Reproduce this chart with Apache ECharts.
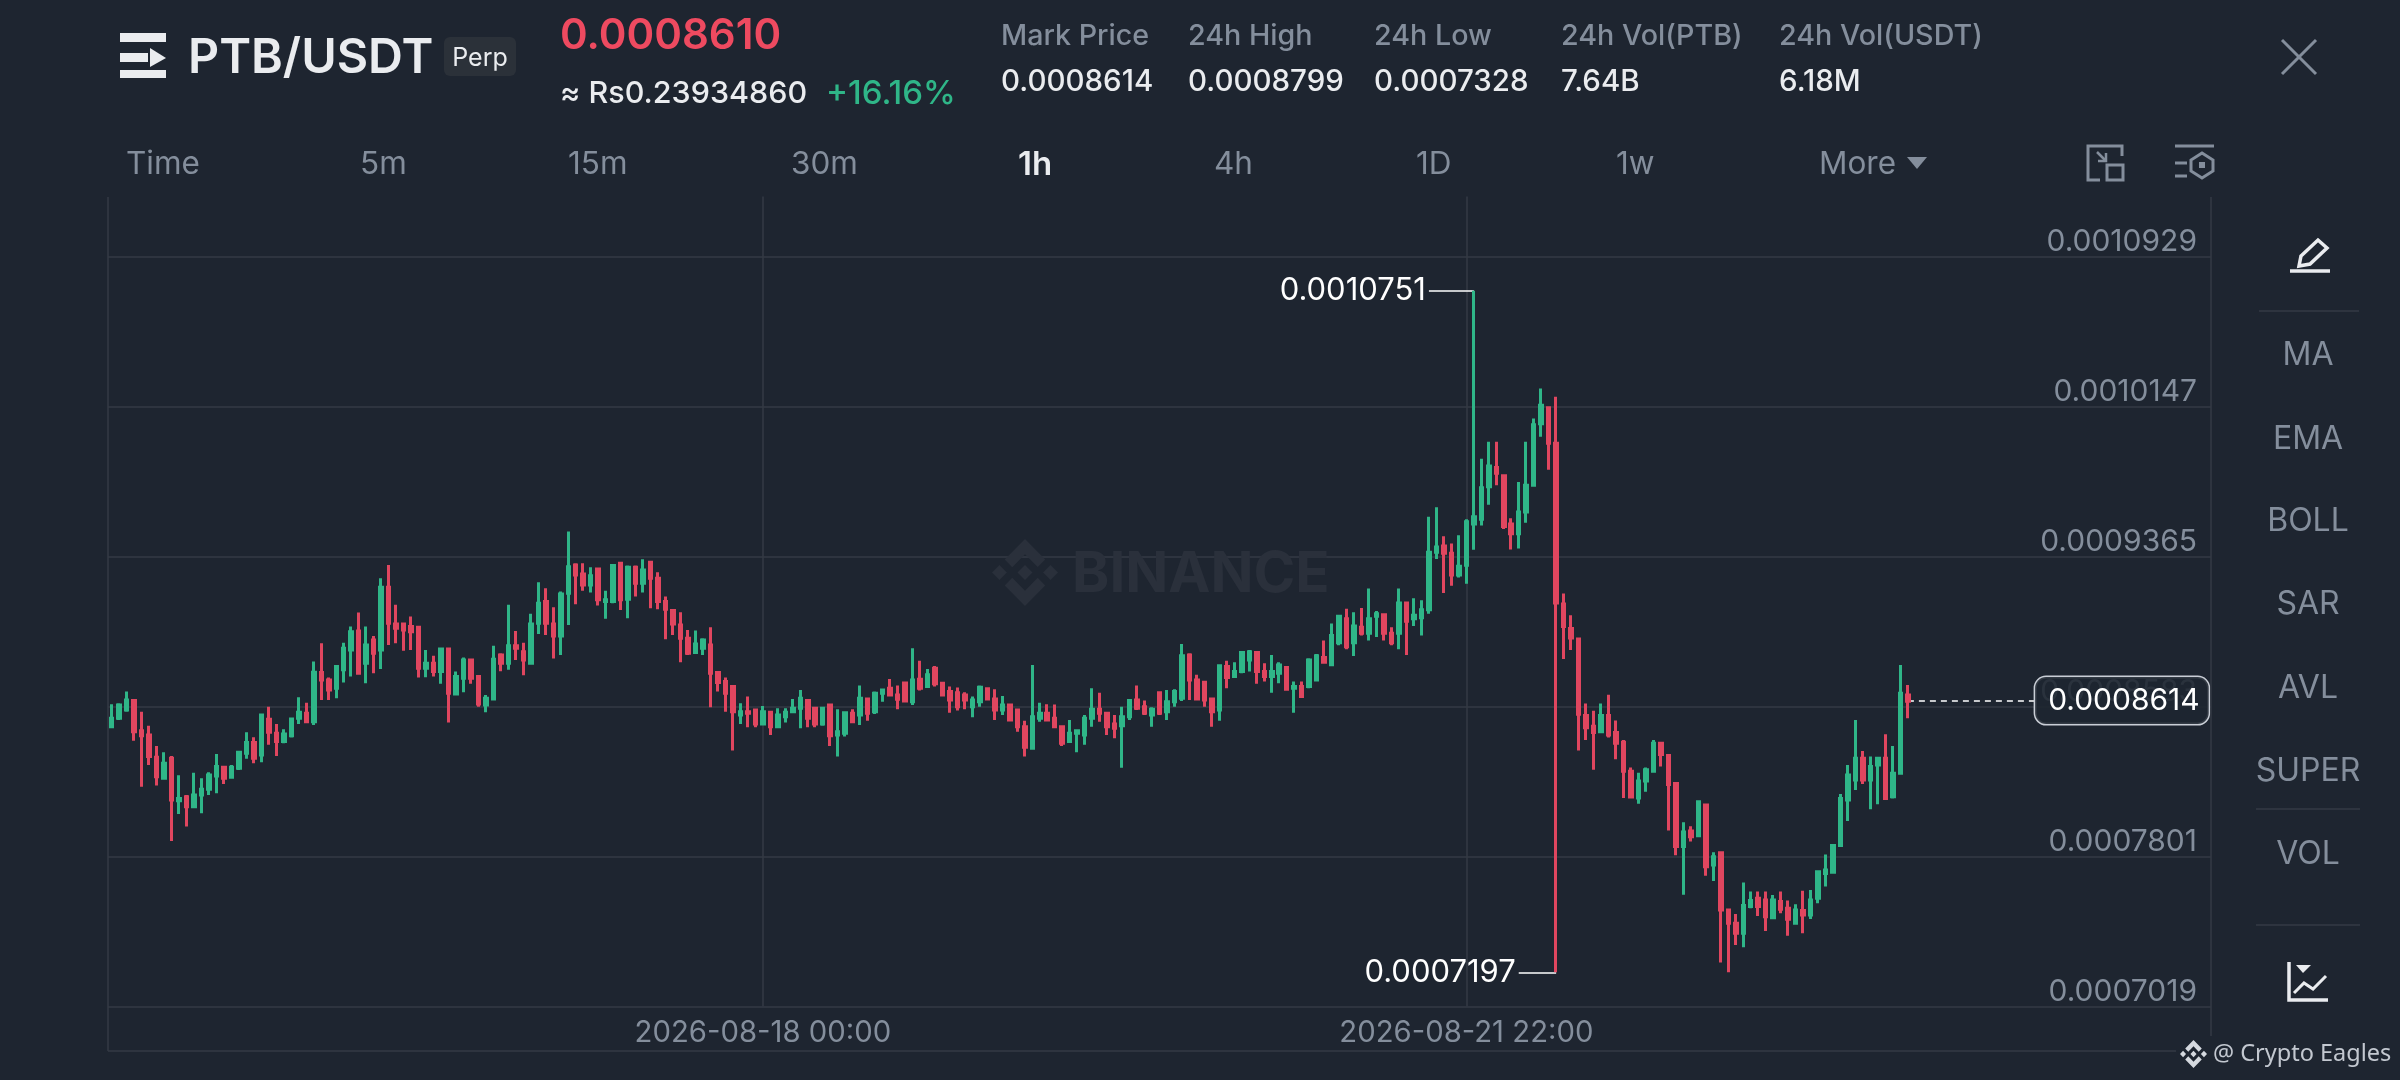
<!DOCTYPE html>
<html><head><meta charset="utf-8">
<style>html,body{margin:0;padding:0;background:#1e2530}#c{width:2400px;height:1080px}</style>
<script src="https://cdn.jsdelivr.net/npm/echarts@6/dist/echarts.min.js"></script>
</head><body><div id="c"></div>
<script>
// Prices in units of 0.0000001 USDT, one entry per hourly candle.
const opens = [8478,8522,8565,8614,8457,8435,8318,8209,8313,8092,
8113,8061,8122,8151,8221,8266,8214,8261,8339,8395,
8330,8516,8443,8400,8430,8522,8548,8504,8760,8721,
8678,8774,8878,8977,8808,8930,8878,9205,9013,9013,
9000,8996,8782,8808,8765,8883,8648,8730,8826,8739,
8591,8622,8852,8808,8900,8869,8808,9017,9130,9013,
8951,9173,9321,9274,9217,9300,9130,9130,9330,9142,
9309,9226,9335,9252,9130,9083,9008,8939,8864,8887,
8904,8760,8713,8687,8539,8556,8565,8492,8553,8478,
8530,8556,8574,8614,8574,8492,8591,8435,8443,8548,
8539,8622,8556,8652,8678,8643,8706,8608,8725,8687,
8782,8704,8661,8655,8643,8582,8608,8675,8622,8565,
8591,8565,8478,8365,8522,8548,8522,8478,8400,8443,
8435,8522,8569,8548,8492,8482,8530,8617,8582,8539,
8655,8556,8608,8626,8852,8721,8709,8622,8565,8791,
8739,8765,8826,8864,8765,8739,8756,8786,8678,8687,
8687,8721,8839,8801,8915,9041,8915,8996,8965,9054,
9061,8965,8965,9122,9041,9046,9087,9387,9420,9382,
9268,9319,9534,9559,9728,9829,9786,9534,9483,9597,
9736,10057,10140,9956,9117,8990,8935,8536,8480,8452,
8536,8447,8397,8245,8106,8194,8245,8392,8328,8182,
7853,7934,7909,8070,7757,7821,7522,7453,7401,7540,
7583,7574,7482,7566,7531,7453,7519,7496,7583,7713,
7719,7858,8096,8200,8313,8200,8278,8313,8113,8235,
8643];
const closes = [8522,8591,8617,8452,8430,8322,8217,8287,8096,8104,
8061,8122,8151,8226,8270,8209,8266,8344,8395,8313,
8539,8449,8400,8440,8518,8553,8504,8761,8721,8669,
8791,8887,8973,8756,8904,8861,9205,9017,8991,8982,
8973,8782,8808,8765,8883,8652,8739,8826,8730,8596,
8626,8829,8808,8900,8887,8826,9013,9121,9017,8951,
9170,9312,9269,9217,9264,9139,9139,9318,9139,9309,
9226,9295,9252,9130,9090,9013,8939,8861,8909,8930,
8756,8708,8652,8556,8556,8548,8492,8556,8478,8539,
8553,8574,8626,8522,8492,8574,8430,8452,8551,8504,
8626,8548,8652,8669,8643,8621,8612,8721,8678,8748,
8701,8643,8617,8582,8617,8617,8683,8622,8565,8591,
8513,8478,8370,8530,8548,8513,8478,8391,8443,8457,
8522,8569,8548,8478,8469,8530,8614,8574,8548,8569,
8548,8608,8661,8847,8721,8622,8617,8556,8796,8734,
8765,8864,8869,8765,8739,8765,8800,8673,8687,8635,
8826,8847,8814,8953,9054,8894,9003,8965,9041,9066,
8965,8915,9122,9028,9059,9087,9387,9415,9382,9268,
9314,9546,9572,9723,9837,9799,9521,9483,9597,9736,
10052,10153,9956,9122,9000,8940,8543,8472,8447,8536,
8435,8392,8245,8111,8194,8253,8392,8333,8177,7853,
7929,7904,8086,7748,7800,7522,7453,7401,7545,7571,
7540,7487,7574,7526,7474,7522,7496,7574,7722,7731,
7858,8104,8226,8313,8200,8270,8313,8104,8235,8652,
8610];
const lows = [8478,8513,8556,8405,8165,8278,8171,8209,7882,8023,
7957,8058,8026,8122,8131,8179,8207,8252,8310,8287,
8292,8383,8325,8391,8421,8492,8504,8487,8617,8617,
8626,8708,8739,8748,8704,8756,8779,8904,8913,8873,
8878,8734,8735,8739,8701,8499,8643,8657,8701,8582,
8553,8622,8767,8774,8826,8746,8808,8961,8956,8833,
8852,9008,9116,9187,9177,9109,9040,9121,9086,9043,
9156,9177,9095,9090,8934,8956,8814,8852,8861,8852,
8579,8661,8556,8353,8492,8475,8475,8492,8435,8473,
8499,8548,8469,8475,8475,8482,8377,8322,8426,8496,
8487,8509,8544,8608,8635,8569,8608,8591,8666,8682,
8687,8640,8551,8562,8569,8527,8582,8617,8513,8539,
8513,8452,8322,8357,8504,8508,8475,8377,8395,8344,
8383,8478,8504,8435,8417,8264,8513,8565,8539,8478,
8539,8513,8582,8612,8617,8617,8582,8478,8509,8678,
8735,8756,8765,8701,8713,8655,8704,8669,8551,8631,
8678,8713,8814,8793,8902,8882,8846,8953,8927,8945,
8927,8902,8882,8851,9003,8953,9066,9352,9175,9213,
9256,9223,9400,9526,9635,9736,9508,9402,9407,9541,
9728,9989,9817,7197,8831,8877,8354,8409,8253,8447,
8422,8308,8106,8106,8076,8139,8237,8270,7937,7808,
7601,7879,7909,7701,7673,7248,7198,7340,7328,7531,
7491,7413,7479,7505,7388,7447,7401,7475,7557,7644,
7713,7852,7986,8148,8179,8047,8073,8099,8104,8230,
8522];
const highs = [8595,8600,8661,8617,8556,8482,8377,8344,8325,8224,
8122,8238,8209,8240,8336,8270,8278,8344,8449,8423,
8542,8582,8492,8464,8522,8631,8603,8817,8913,8734,
8800,8916,9000,9073,9000,8951,9252,9321,9113,9020,
9052,9003,8878,8847,8887,8887,8765,8838,8831,8742,
8643,8900,8861,9113,8977,8916,9066,9231,9199,9100,
9182,9495,9330,9330,9309,9304,9187,9326,9335,9318,
9318,9351,9338,9283,9156,9090,9074,8982,8979,8939,
8996,8761,8734,8690,8600,8635,8569,8586,8556,8574,
8574,8622,8669,8617,8579,8579,8596,8569,8556,8569,
8692,8626,8661,8675,8727,8692,8709,8887,8821,8779,
8794,8708,8687,8682,8657,8635,8692,8678,8673,8638,
8596,8569,8509,8800,8603,8595,8593,8483,8513,8461,
8539,8678,8655,8556,8539,8582,8617,8692,8614,8579,
8661,8669,8673,8909,8861,8748,8713,8626,8800,8821,
8814,8869,8878,8869,8808,8852,8814,8791,8713,8713,
8834,8857,8927,9016,9059,9092,9074,9097,9198,9081,
9066,8996,9198,9129,9147,9137,9572,9622,9471,9433,
9476,9559,10751,9875,9963,9963,9792,9564,9754,9963,
10085,10241,10148,10198,9172,9059,8940,8599,8561,8599,
8644,8510,8409,8265,8237,8265,8409,8397,8333,8189,
7980,7959,8093,8073,7823,7826,7526,7501,7666,7618,
7618,7618,7600,7618,7571,7552,7623,7627,7727,7812,
7866,8127,8278,8513,8351,8322,8316,8438,8377,8799,
8695];
const priceTicks = [7019,7801,8583,9365,10147,10929];
const timeTickIndexes = [87,181];
const highIndex = 182, highValue = 10751;
const lowIndex = 193, lowValue = 7197;
const markPrice = 8614;
const firstHourUTC = Date.UTC(2026,7,14,9,0);
const bandCount = 281;

const pad = n => String(n).padStart(2,'0');
const categories = Array.from({length:bandCount},(_,i)=>{
  const d = new Date(firstHourUTC + i*3600000);
  return d.getUTCFullYear()+'-'+pad(d.getUTCMonth()+1)+'-'+pad(d.getUTCDate())+' '+pad(d.getUTCHours())+':'+pad(d.getUTCMinutes());
});
const candles = opens.map((o,i)=>[o,closes[i],lows[i],highs[i]]);
const fmtPrice = v => (v*1e-7).toFixed(7);

const BG='#1e2530', GREEN='#2fb688', RED='#e0465f', GREY='#848e9c', LIGHT='#eaecef', GRID='#343a45', FONT='Inter';
const LOGO_SHAPES=[
 [[12,0],[19.35,7.34],[16.63,10.06],[12,5.42],[7.36,10.08],[4.64,7.36]],
 [[16.62,13.92],[19.34,16.64],[12,24],[4.63,16.64],[7.35,13.92],[12,18.58]],
 [[2.72,9.28],[5.41,12],[2.72,14.69],[0,12]],
 [[21.26,9.28],[24,12],[21.28,14.72],[18.57,12]],
 [[12,9.28],[14.7,12],[12,14.71],[9.27,12]]
];

const t=(text,x,y,size,fill,weight,align,family)=>({type:'text',silent:true,z:20,style:{text,x,y,fill,font:`${weight||400} ${size}px ${family||FONT}`,align:align||'left',verticalAlign:'middle'}});
const rect=(x,y,w,h,fill,r)=>({type:'rect',silent:true,z:10,shape:{x,y,width:w,height:h,r:r||0},style:{fill}});
const line=(x1,y1,x2,y2,stroke,w)=>({type:'line',silent:true,z:10,shape:{x1,y1,x2,y2},style:{stroke,lineWidth:w||1.5}});
const stroked=(points,stroke,w)=>({type:'polyline',silent:true,z:10,shape:{points},style:{fill:'none',stroke,lineWidth:w||3}});
const outline=(points,stroke,w)=>({type:'polygon',silent:true,z:10,shape:{points},style:{fill:'none',stroke,lineWidth:w||3}});
const filled=(points,fill,z)=>({type:'polygon',silent:true,z:z||10,shape:{points},style:{fill}});
const logo=(x,y,w,h,fill,z)=>LOGO_SHAPES.map(s=>filled(s.map(p=>[x+p[0]*w/24,y+p[1]*h/24]),fill,z));

const graphics=[
 // frame below and beside the plot
 line(108,197,108,1051,GRID,1.5), line(2211,197,2211,1051,GRID,1.5), line(108,1051,2211,1051,GRID,1.5),
 // menu icon
 rect(120,33,46,9,LIGHT), rect(120,53,28,9,LIGHT), rect(120,70,46,8,LIGHT), filled([[150,48],[166,58],[150,67]],LIGHT),
 t('PTB/USDT',188,58,48.3,LIGHT,600),
 rect(444,37,72,39,'#2b3139',6), t('Perp',480,58,25,LIGHT,400,'center'),
 t('0.0008610',560,36,42,'#ee4a60',600),
 t('≈ Rs0.23934860',560,94,30.5,LIGHT,500),
 t('+16.16%',826,94,33,GREEN,500),
 t('Mark Price',1001,36,28.7,GREY,500), t('0.0008614',1001,82,29.5,LIGHT,500),
 t('24h High',1188,36,28.7,GREY,500), t('0.0008799',1188,82,29.5,LIGHT,500),
 t('24h Low',1374,36,28.7,GREY,500), t('0.0007328',1374,82,29.5,LIGHT,500),
 t('24h Vol(PTB)',1561,36,28.7,GREY,500), t('7.64B',1561,82,29.5,LIGHT,500),
 t('24h Vol(USDT)',1779,36,28.7,GREY,500), t('6.18M',1779,82,29.5,LIGHT,500),
 line(2282,40,2316,74,GREY,3), line(2316,40,2282,74,GREY,3),
 t('Time',126,165,31.5,GREY), t('5m',360,165,31.5,GREY), t('15m',568,165,31.5,GREY), t('30m',791,165,31.5,GREY),
 t('1h',1018,165,33,LIGHT,600), t('4h',1214,165,31.5,GREY), t('1D',1416,165,31.5,GREY), t('1w',1616,165,31.5,GREY),
 t('More',1819,165,31.5,GREY), filled([[1907,157],[1927,157],[1917,169]],GREY),
 stroked([[2122,156],[2122,146],[2088,146],[2088,180],[2100,180]],GREY,3),
 {type:'rect',silent:true,z:10,shape:{x:2107,y:165,width:16,height:15},style:{fill:'none',stroke:GREY,lineWidth:3}},
 stroked([[2097,152],[2105,160]],GREY,2.5), stroked([[2098,161],[2106,161],[2106,153]],GREY,2.5),
 line(2175,146,2214,146,GREY,3), line(2175,163,2187,163,GREY,3), line(2175,176,2187,176,GREY,3),
 outline([[2202,153],[2213,160],[2213,171],[2202,178],[2191,171],[2191,160]],GREY,3), rect(2199,162,6,6,GREY),
 // right column
 outline([[2301,256],[2318,240],[2327,248],[2310,264],[2299,266]],LIGHT,3.5), line(2290,271,2330,271,LIGHT,3.5),
 line(2259,311,2359,311,GRID,1.5),
 t('MA',2308,355,32,GREY,400,'center'), t('EMA',2308,439,32,GREY,400,'center'), t('BOLL',2308,521,32,GREY,400,'center'),
 t('SAR',2308,604,32,GREY,400,'center'), t('AVL',2308,688,32,GREY,400,'center'), t('SUPER',2308,771,32,GREY,400,'center'),
 line(2256,809,2360,809,GRID,1.5), t('VOL',2308,854,32,GREY,400,'center'), line(2256,925,2360,925,GRID,1.5),
 stroked([[2289,962],[2289,1000],[2328,1000]],LIGHT,3.5), stroked([[2294,993],[2304,983],[2313,989],[2326,976]],LIGHT,3), filled([[2296,965],[2311,965],[2303,973]],LIGHT),
 // watermark and credit
 ...logo(992,539,66,67,'#2a303b',3),
 {type:'text',silent:true,z:3,style:{text:'BINANCE',x:1072,y:575,fill:'#2a303b',font:'700 56.5px '+FONT,align:'left',verticalAlign:'middle'}},
 rect(2176,1036,224,40,BG),
 ...logo(2180,1040,27,28,'#d5d9df',11),
 t('@ Crypto Eagles',2213,1054,23.5,'#c3c8d0',400,'left','"Noto Sans"')
];

const series=[{
  type:'candlestick', data:candles, barWidth:3, z:5,
  itemStyle:{color:GREEN,color0:RED,borderColor:GREEN,borderColor0:RED,borderWidth:3},
  markLine:{silent:true,symbol:'none',animation:false,precision:7,
    label:{color:'#ffffff',fontFamily:FONT,fontSize:31,position:'start',distance:3},
    lineStyle:{color:'#ffffff',width:1.5,type:'solid'},
    data:[
      [{coord:[highIndex-6,highValue],label:{formatter:fmtPrice(highValue)}},{coord:[highIndex,highValue]}],
      [{coord:[lowIndex-5.5,lowValue],label:{formatter:fmtPrice(lowValue)}},{coord:[lowIndex,lowValue]}],
      [{coord:[240,markPrice],lineStyle:{type:[6,5],color:'#ffffff',width:1.5},
        label:{formatter:fmtPrice(markPrice),position:'end',distance:0,fontSize:30,padding:[9,9,8,13],
               backgroundColor:'rgba(30,37,48,0.88)',borderColor:'#c9ced6',borderWidth:1.5,borderRadius:11}},
       {coord:[257.2,markPrice]}]
    ]}
}];

const chart=echarts.init(document.getElementById('c'),null,{renderer:'canvas'});
chart.setOption({
  animation:false, backgroundColor:BG,
  grid:{left:108,right:189,top:196.5,bottom:73.5,containLabel:false},
  xAxis:{type:'category',data:categories,boundaryGap:true,
    axisLine:{show:false},axisTick:{show:false},
    axisLabel:{interval:(i)=>timeTickIndexes.includes(i),color:GREY,fontFamily:FONT,fontSize:29.3,margin:12},
    splitLine:{show:true,alignWithLabel:true,interval:(i)=>timeTickIndexes.includes(i),lineStyle:{color:GRID,width:1.5}}},
  yAxis:{type:'value',position:'right',min:7019,max:11241.8,scale:true,
    axisLine:{show:false},
    axisTick:{show:false,customValues:priceTicks},
    axisLabel:{inside:true,customValues:priceTicks,formatter:fmtPrice,color:GREY,fontFamily:FONT,fontSize:30,margin:14,align:'right',verticalAlign:'bottom',lineHeight:30},
    splitLine:{show:true,lineStyle:{color:GRID,width:1.5}}},
  series, graphic:{elements:graphics}
});
</script></body></html>
